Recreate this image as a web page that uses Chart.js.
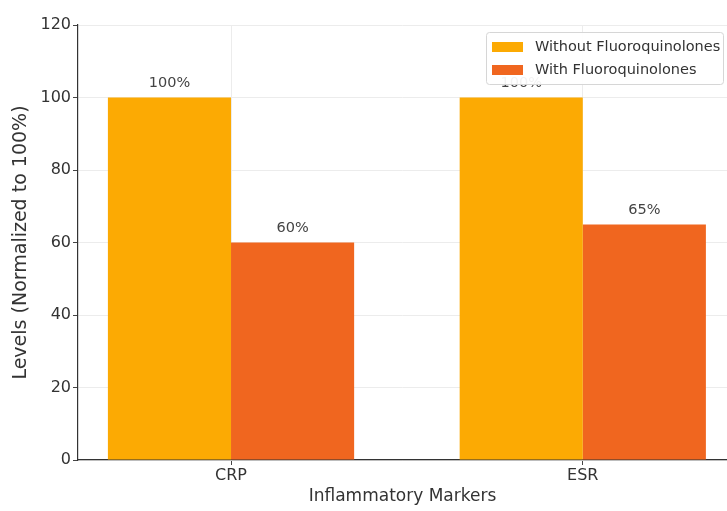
<!DOCTYPE html>
<html>
<head>
<meta charset="utf-8">
<style>
  html, body { margin: 0; padding: 0; background: #fff; overflow: hidden; }
  canvas { display: block; }
</style>
<script src="https://cdn.jsdelivr.net/npm/chart.js@4.4.1/dist/chart.umd.min.js"></script>
</head>
<body>
<canvas id="chart" width="727" height="511"></canvas>
<script>
// Inflammatory marker levels, normalized so the untreated level is 100%
const categories = ['CRP', 'ESR'];
const withoutFQ = [100, 100];
const withFQ = [60, 65];
const seriesNames = ['Without Fluoroquinolones', 'With Fluoroquinolones'];
const yTicks = [0, 20, 40, 60, 80, 100, 120];

const FONT = '"DejaVu Sans", "Liberation Sans", sans-serif';
const TEXT = '#333333';

const toPoints = vals => vals.map((v, i) => ({ x: i, y: v }));

// White page background
const background = {
  id: 'background',
  beforeDraw(chart) {
    const ctx = chart.ctx;
    ctx.save();
    ctx.fillStyle = '#ffffff';
    ctx.fillRect(0, 0, chart.width, chart.height);
    ctx.restore();
  }
};

// Percentage labels above each bar
const valueLabels = {
  id: 'valueLabels',
  afterDatasetsDraw(chart) {
    const ctx = chart.ctx;
    const yScale = chart.scales.y;
    ctx.save();
    ctx.font = '14.5px ' + FONT;
    ctx.fillStyle = '#444444';
    ctx.textAlign = 'center';
    ctx.textBaseline = 'bottom';
    chart.data.datasets.forEach((ds, di) => {
      const meta = chart.getDatasetMeta(di);
      meta.data.forEach((bar, i) => {
        const v = ds.data[i].y;
        ctx.fillText(v + '%', bar.x, yScale.getPixelForValue(v + 2));
      });
    });
    ctx.restore();
  }
};

// Framed legend in the upper right corner of the plot
const boxLegend = {
  id: 'boxLegend',
  afterDraw(chart) {
    const ctx = chart.ctx;
    const x = 486, y = 32, w = 237, h = 52, r = 3;
    ctx.save();
    ctx.beginPath();
    ctx.roundRect(x + 0.5, y + 0.5, w, h, r);
    ctx.fillStyle = 'rgba(255,255,255,0.93)';
    ctx.fill();
    ctx.strokeStyle = '#d6d6d6';
    ctx.lineWidth = 1;
    ctx.stroke();
    ctx.font = '14.5px ' + FONT;
    ctx.textAlign = 'left';
    ctx.textBaseline = 'middle';
    chart.data.datasets.forEach((ds, i) => {
      const cy = y + 15 + i * 23;
      ctx.fillStyle = ds.backgroundColor;
      ctx.fillRect(x + 6, cy - 5, 31, 10);
      ctx.fillStyle = TEXT;
      ctx.fillText(ds.label, x + 49, cy);
    });
    ctx.restore();
  }
};

new Chart(document.getElementById('chart'), {
  type: 'bar',
  data: {
    datasets: [
      { label: seriesNames[0], data: toPoints(withoutFQ), backgroundColor: '#FCAA03' },
      { label: seriesNames[1], data: toPoints(withFQ), backgroundColor: '#F0661F' }
    ]
  },
  options: {
    responsive: false,
    animation: false,
    events: [],
    layout: { padding: { top: 25, right: 0, bottom: 0, left: 0 } },
    datasets: { bar: { categoryPercentage: 0.7, barPercentage: 1.0 } },
    plugins: { legend: { display: false }, tooltip: { enabled: false } },
    scales: {
      x: {
        type: 'linear',
        offset: false,
        min: -0.435,
        max: 1.41,
        afterBuildTicks(scale) { scale.ticks = categories.map((c, i) => ({ value: i })); },
        afterFit(scale) { scale.height = 51; },
        ticks: {
          callback: v => categories[v],
          font: { family: FONT, size: 16 },
          color: TEXT,
          padding: 1,
          maxRotation: 0
        },
        grid: { offset: false, color: '#ececec', lineWidth: 1, tickLength: 5, tickColor: '#444444', tickWidth: 1 },
        border: { color: '#333333', width: 1.2 },
        title: {
          display: true,
          text: 'Inflammatory Markers',
          font: { family: FONT, size: 17 },
          color: TEXT,
          padding: { top: 0, bottom: 4 }
        }
      },
      y: {
        min: 0,
        max: 120,
        afterBuildTicks(scale) { scale.ticks = yTicks.map(v => ({ value: v })); },
        afterFit(scale) { scale.width = 78; },
        ticks: {
          font: { family: FONT, size: 16 },
          color: TEXT,
          padding: 2
        },
        grid: { color: '#ececec', lineWidth: 1, tickLength: 5, tickColor: '#444444', tickWidth: 1 },
        border: { color: '#333333', width: 1.2 },
        title: {
          display: true,
          text: 'Levels (Normalized to 100%)',
          font: { family: FONT, size: 19 },
          color: TEXT,
          padding: { top: 10, bottom: 0 }
        }
      }
    }
  },
  plugins: [background, valueLabels, boxLegend]
});
</script>
</body>
</html>
